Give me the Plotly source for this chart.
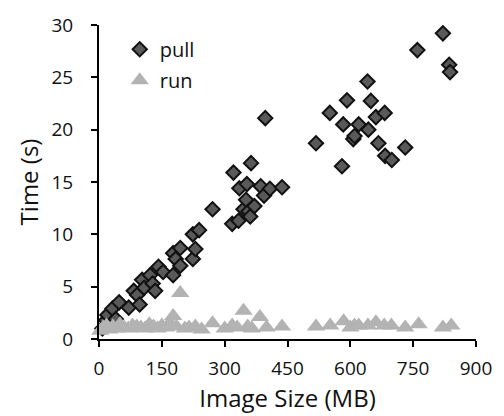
import plotly.graph_objects as go

# pull timings: image size (MB) vs time (s)
pull_x = [8, 17, 20, 32, 40, 48, 71, 83, 91, 97, 103, 108, 122, 128, 134, 142, 153, 177, 177, 183,
          194, 194, 224, 224, 230, 239, 271, 318, 321, 333, 335, 345, 351, 353, 357, 361, 363, 371,
          386, 394, 397, 408, 437, 518, 551, 580, 583, 592, 607, 610, 620, 641, 643, 649, 661, 667,
          682, 683, 699, 731, 760, 821, 836, 838]
pull_y = [1.0, 1.8, 2.3, 2.9, 1.9, 3.5, 3.0, 4.6, 4.2, 3.3, 5.65, 4.9, 6.1, 5.3, 4.6, 6.9, 6.4, 6.1, 8.2, 7.65,
          8.7, 7.0, 7.65, 10.0, 8.6, 10.4, 12.4, 11.0, 15.9, 11.3, 14.4, 12.4, 13.3, 14.8, 12.2, 11.7, 16.8, 12.7,
          14.6, 13.7, 21.1, 14.35, 14.5, 18.7, 21.6, 16.5, 20.5, 22.8, 19.1, 19.4, 20.5, 24.6, 20.0, 22.75, 21.2, 18.7,
          21.6, 17.5, 17.1, 18.3, 27.6, 29.2, 26.2, 25.5]

# run timings
run_x = [3, 10, 18, 25, 33, 42, 50, 60, 70, 80, 90, 100, 110, 120, 130, 140, 150, 160, 170, 177,
         185, 194, 205, 215, 230, 245, 271, 300, 318, 330, 345, 355, 365, 384, 400, 437, 518, 552, 584, 600,
         610, 620, 642, 661, 681, 698, 731, 763, 821, 841]
run_y = [0.8, 1.1, 1.3, 0.9, 1.2, 1.0, 1.4, 1.1, 1.0, 1.3, 1.2, 1.1, 1.0, 1.4, 1.2, 1.0, 1.3, 1.1, 1.5, 2.2,
         1.2, 4.4, 1.0, 1.1, 1.2, 0.9, 1.5, 1.0, 1.3, 1.1, 2.7, 1.2, 1.0, 2.1, 1.1, 1.2, 1.2, 1.3, 1.7, 1.1,
         1.3, 1.3, 1.3, 1.6, 1.3, 1.3, 1.1, 1.4, 1.1, 1.3]

x_ticks = [0, 150, 300, 450, 600, 750, 900]
y_ticks = [0, 5, 10, 15, 20, 25, 30]

FONT = "Open Sans"
TXT = "#111111"

fig = go.Figure()
fig.add_trace(go.Scatter(
    x=pull_x, y=pull_y, mode="markers", name="pull", legendgroup="a",
    marker=dict(symbol="diamond", size=11, color="#595959", line=dict(color="#111111", width=2)),
    cliponaxis=False,
))
fig.add_trace(go.Scatter(
    x=run_x, y=run_y, mode="markers", name="run", legendgroup="b",
    marker=dict(symbol="triangle-up", size=16, color="#b3b3b3", line=dict(width=0)),
    cliponaxis=False,
))

axis_common = dict(
    showline=True, linecolor="black", linewidth=2, ticks="outside", ticklen=6,
    tickwidth=2, tickcolor="black", showgrid=False, zeroline=False,
    tickfont=dict(family=FONT, size=19, color=TXT),
)
fig.update_xaxes(range=[0, 900], tickvals=x_ticks, ticklabelstandoff=5,
                 title=dict(text="Image Size (MB)", font=dict(family=FONT, size=24, color=TXT), standoff=6),
                 **axis_common)
fig.update_yaxes(range=[0, 30], tickvals=y_ticks, ticklabelstandoff=14,
                 title=dict(text="Time (s)", font=dict(family=FONT, size=24, color=TXT), standoff=6),
                 **axis_common)

fig.update_layout(
    width=504, height=416,
    margin=dict(l=99, r=21, t=16, b=75),
    paper_bgcolor="white", plot_bgcolor="white",
    showlegend=True,
    legend=dict(x=0.055, y=0.985, xanchor="left", yanchor="top",
                font=dict(family=FONT, size=20, color=TXT),
                traceorder="grouped", tracegroupgap=2, bgcolor="rgba(0,0,0,0)"),
    font=dict(family=FONT),
)

fig.write_html("out.html")
